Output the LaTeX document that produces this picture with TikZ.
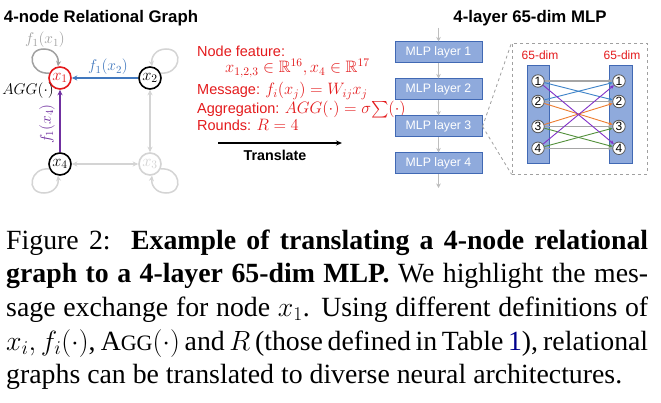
\RequirePackage{fix-cm}
\documentclass[tikz,border=0pt]{standalone}
\usepackage{amssymb}
\usepackage{fontspec}
\setmainfont{Liberation Serif}
\newfontfamily\arial{Liberation Sans}
\usetikzlibrary{arrows.meta}
\definecolor{redc}{RGB}{228,26,28}
\definecolor{bluee}{RGB}{65,120,190}
\definecolor{purp}{RGB}{112,48,160}
\definecolor{lgray}{RGB}{212,212,212}
\definecolor{mgray}{RGB}{160,160,160}
\definecolor{mlpfill}{RGB}{143,170,220}
\definecolor{mlpdraw}{RGB}{65,105,180}
\definecolor{arrgray}{RGB}{190,190,190}
\definecolor{cgray}{RGB}{165,165,165}
\definecolor{cblue}{RGB}{60,130,200}
\definecolor{corange}{RGB}{237,125,49}
\definecolor{cgreen}{RGB}{84,145,60}
\definecolor{cpurple}{RGB}{130,50,200}
\definecolor{linkblue}{RGB}{0,0,140}
\newcommand\mymath[1]{{\fontsize{16.5}{17}\selectfont$#1$}}
\begin{document}
\begin{tikzpicture}[x=1pt,y=-1pt,>={Stealth[length=5.5pt,width=5pt]},
  gnode/.style={circle, draw=black, line width=1.6pt, minimum size=22pt, inner sep=0pt,
    font=\fontsize{16.5}{18}\selectfont, fill=white},
  gedge/.style={line width=1.5pt},
  mathlbl/.style={inner sep=0pt, font=\fontsize{15.5}{17}\selectfont},
  redtxt/.style={inner sep=0pt, anchor=base west, text=redc, font=\arial\fontsize{14.5}{17}\selectfont},
  titletxt/.style={inner sep=0pt, anchor=base, font=\arial\bfseries\fontsize{16.8}{19}\selectfont},
  mlp/.style={rectangle, draw=mlpdraw, fill=mlpfill, line width=1pt, minimum width=87pt,
    minimum height=21pt, inner sep=0pt, text=white, font=\arial\fontsize{12.3}{14}\selectfont},
  garrow/.style={draw=arrgray, line width=1.3pt, ->, >={Stealth[length=4.5pt,width=4.5pt]}},
  col/.style={rectangle, draw=mlpdraw, fill=mlpfill, line width=0.8pt, inner sep=0pt},
  unit/.style={circle, draw=black!65, fill=white, line width=0.8pt, minimum size=12.5pt, inner sep=0pt,
    font=\arial\fontsize{12}{13}\selectfont},
  conn/.style={line width=0.9pt, ->, >={Stealth[length=4pt,width=3.5pt]}},
  dimtxt/.style={inner sep=0pt, anchor=base, text=redc, font=\arial\fontsize{12}{14}\selectfont}
]
\fill[white] (0,0) rectangle (661,403);
\path[use as bounding box] (0,0) rectangle (661,403);

% ---------- left: relational graph ----------
\node[titletxt] (t1) at (101,22.7) {4-node Relational Graph};
\node[gnode, draw=redc, text=redc] (x1) at (60,78) {$x_1$};
\node[gnode] (x2) at (150,78) {$x_2$};
\node[gnode] (x4) at (60,164) {$x_4$};
\node[gnode, draw=lgray, text=lgray] (x3) at (150,164) {$x_3$};

\draw[gedge, bluee, ->] (x2) -- (x1);
\draw[gedge, purp, ->] (x4) -- (x1);
\draw[gedge, lgray, <->] (x4) -- (x3);
\draw[gedge, lgray, <->] (x2) -- (x3);

\begin{scope}[shift={(x1.center)}]
  \draw[gedge, mgray, ->] (x1.155) .. controls (-30,-3) and (-35,-29) .. (-16,-29)
    .. controls (-5,-29) and (-1,-20) .. (x1.100);
\end{scope}
\begin{scope}[shift={(x2.center)}, xscale=-1]
  \draw[gedge, lgray, ->] (x2.25) .. controls (-30,-3) and (-35,-29) .. (-16,-29)
    .. controls (-5,-29) and (-1,-20) .. (x2.80);
\end{scope}
\begin{scope}[shift={(x4.center)}, yscale=-1]
  \draw[gedge, lgray, ->] (x4.205) .. controls (-30,-3) and (-35,-29) .. (-16,-29)
    .. controls (-5,-29) and (-1,-20) .. (x4.260);
\end{scope}
\begin{scope}[shift={(x3.center)}, xscale=-1, yscale=-1]
  \draw[gedge, lgray, ->] (x3.335) .. controls (-30,-3) and (-35,-29) .. (-16,-29)
    .. controls (-5,-29) and (-1,-20) .. (x3.280);
\end{scope}

\node[mathlbl, text=mgray] (l11) at (45,40) {$f_1(x_1)$};
\node[mathlbl, text=bluee] (l12) at (108,67) {$f_1(x_2)$};
\node[mathlbl, text=purp, rotate=90] (l14) at (47,124) {$f_1(x_4)$};
\node[mathlbl] (agg) at (28,91) {$AGG(\cdot)$};

% ---------- middle: text ----------
\node[redtxt] (nf) at (197,57) {Node feature:};
\node[redtxt] (nf2) at (225,72.7) {\mymath{x_{1,2,3}\in\mathbb{R}^{16}, x_4\in\mathbb{R}^{17}}};
\node[redtxt] (msg) at (197,95) {Message: \mymath{f_i(x_j)=W_{ij}x_j}};
\node[redtxt] (aggr) at (197,114) {Aggregation: \mymath{AGG(\cdot)=\sigma{\textstyle\sum}(\cdot)}};
\node[redtxt] (rnd) at (197,131) {Rounds: \mymath{R=4}};
\coordinate (ta) at (218,143);
\coordinate (tb) at (342,143);
\draw[line width=1.5pt, ->, >={Stealth[length=6pt,width=5pt]}] (ta) -- (tb);
\node[inner sep=0pt, anchor=base, font=\arial\bfseries\fontsize{14.3}{17}\selectfont] (tr) at (275,160.7) {Translate};

% ---------- right: MLP ----------
\node[titletxt] (t2) at (530,22.7) {4-layer 65-dim MLP};
\node[mlp] (L1) at (438.5,52.5) {MLP layer 1};
\node[mlp] (L2) at (438.5,89.5) {MLP layer 2};
\node[mlp] (L3) at (438.5,126.5) {MLP layer 3};
\node[mlp] (L4) at (438.5,163.5) {MLP layer 4};
\coordinate (top) at (438.5,28);
\coordinate (bot) at (438.5,188);
\draw[garrow] (top) -- (L1);
\draw[garrow] (L1) -- (L2);
\draw[garrow] (L2) -- (L3);
\draw[garrow] (L3) -- (L4);
\draw[garrow] (L4) -- (bot);

\node[draw=mgray, dashed, line width=0.8pt, minimum width=135pt, minimum height=131pt, inner sep=0pt] (zb) at (579.5,108.5) {};
\draw[mgray, dashed, line width=0.8pt] (L3.east) -- (zb.north west);
\draw[mgray, dashed, line width=0.8pt] (L3.east) -- (zb.south west);

\node[dimtxt] (d1) at (540,59.5) {65-dim};
\node[dimtxt] (d2) at (622,59.5) {65-dim};
\node[col, minimum width=22pt, minimum height=98pt] (cl) at (538,114) {};
\node[col, minimum width=23pt, minimum height=98pt] (cr) at (620.5,114) {};

\foreach \i/\yy in {1/81, 2/101.5, 3/126.5, 4/148.3} {
  \node[unit] (a\i) at (538,\yy) {\i};
  \node[unit] (b\i) at (619,\yy) {\i};
}
\draw[conn, cgray, line width=1.3pt] (a1) -- (b1);
\draw[conn, cgray, line width=1.3pt] (a2) -- (b2);
\draw[conn, cgray, line width=1.3pt] (a3) -- (b3);
\draw[conn, cgray, line width=1.3pt] (a4) -- (b4);
\draw[conn, cblue] (a1) -- (b2);
\draw[conn, cblue] (a2) -- (b1);
\draw[conn, corange] (a2) -- (b3);
\draw[conn, corange] (a3) -- (b2);
\draw[conn, cgreen] (a3) -- (b4);
\draw[conn, cgreen] (a4) -- (b3);
\draw[conn, cpurple] (a1) -- (b4);
\draw[conn, cpurple] (a4) -- (b1);

% ---------- caption ----------
\node[anchor=base west, inner sep=0pt] (cap) at (6,249.3) {\parbox[t]{642pt}{%
\fontsize{27.8}{33.6}\selectfont\tolerance=10000\noindent
Figure 2:\ \ \textbf{Example of translating a 4-node relational\linebreak
graph to a 4-layer 65-dim MLP.} We highlight the mes-\linebreak
sage exchange for node $x_1$. Using different definitions of\linebreak
$x_i, f_i(\cdot)$, A{\fontsize{22}{26}\selectfont GG}$(\cdot)$ and $R$ (those defined in Table \textcolor{linkblue}{1}), relational\linebreak
graphs can be translated to diverse neural architectures.}};
\end{tikzpicture}
\end{document}
